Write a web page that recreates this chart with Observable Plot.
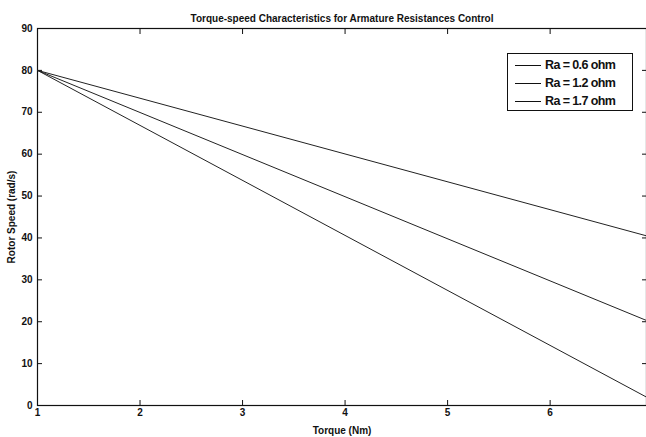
<!DOCTYPE html>
<html>
<head>
<meta charset="utf-8">
<script src="https://cdn.jsdelivr.net/npm/d3@7"></script>
<script src="https://cdn.jsdelivr.net/npm/@observablehq/plot@0.6"></script>
<style>
  html, body { margin: 0; padding: 0; background: #fff; overflow: hidden; }
  #wrap { position: relative; width: 646px; height: 437px; }
  #legend { position: absolute; left: 507px; top: 53px; width: 124px; height: 56px;
    border: 1px solid #111; background: #fff; font: bold 12.5px "Liberation Sans", Arial, sans-serif;
    letter-spacing: -0.6px; color: #111; }
  .item { position: absolute; left: 7px; height: 18px; display: flex; align-items: center; }
  .item span.ln { display: inline-block; width: 26px; height: 0; border-top: 1px solid #111; margin-right: 4px; }
</style>
</head>
<body>
<div id="wrap"><div id="legend"></div></div>
<script>
const titleText = "Torque-speed Characteristics for Armature Resistances Control";
const xLabel = "Torque (Nm)";
const yLabel = "Rotor Speed (rad/s)";
const seriesNames = ["Ra = 0.6 ohm", "Ra = 1.2 ohm", "Ra = 1.7 ohm"];
const torque = [1, 6.94];
const speedRa06 = [80, 40.5];
const speedRa12 = [80, 20.3];
const speedRa17 = [80, 2];
const xTicks = [1, 2, 3, 4, 5, 6];
const yTicks = [0, 10, 20, 30, 40, 50, 60, 70, 80, 90];

const rows = [];
[speedRa06, speedRa12, speedRa17].forEach((s, i) => {
  s.forEach((v, j) => rows.push({series: seriesNames[i], x: torque[j], y: v}));
});

const font = "Liberation Sans, Arial, sans-serif";
const chart = Plot.plot({
  width: 646, height: 437,
  marginTop: 28, marginBottom: 32, marginLeft: 37, marginRight: 0,
  style: {fontFamily: font, fontSize: "10px", fontWeight: "bold", background: "#fff", color: "#111"},
  x: {domain: [torque[0], torque[1]], ticks: xTicks},
  y: {domain: [0, 90], ticks: yTicks},
  marks: [
    Plot.frame({stroke: "#111", strokeWidth: 1.2}),
    Plot.axisX({anchor: "bottom", ticks: xTicks, tickSize: -5, tickPadding: 8, tickFormat: d3.format("d"), label: xLabel, labelAnchor: "center", labelOffset: 28, labelArrow: "none", fontSize: 10}),
    Plot.axisX({anchor: "top", ticks: xTicks, tickSize: -5, tickFormat: () => "", label: null}),
    Plot.axisY({anchor: "left", ticks: yTicks, tickSize: -5, tickPadding: 10, tickFormat: d3.format("d"), label: yLabel, labelAnchor: "center", labelOffset: 30, labelArrow: "none", fontSize: 10}),
    Plot.axisY({anchor: "right", ticks: yTicks, tickSize: -5, tickFormat: () => "", label: null}),
    Plot.line(rows, {x: "x", y: "y", z: "series", stroke: "#222", strokeWidth: 1}),
    Plot.text([titleText], {frameAnchor: "top", dy: -14, fontSize: 10, fontWeight: "bold", letterSpacing: "-0.5px"})
  ]
});
const wrap = document.getElementById("wrap");
wrap.insertBefore(chart, wrap.firstChild);

const legend = document.getElementById("legend");
seriesNames.forEach((n, i) => {
  const d = document.createElement("div");
  d.className = "item";
  d.style.top = (2 + i * 18) + "px";
  d.innerHTML = '<span class="ln"></span>' + n;
  legend.appendChild(d);
});
</script>
</body>
</html>
